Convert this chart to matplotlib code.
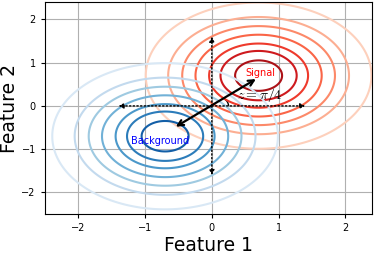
import matplotlib
matplotlib.use("Agg")
import matplotlib.pyplot as plt
import numpy as np
from matplotlib.patches import Arc

plt.rcParams['mathtext.fontset'] = 'cm'

# gaussian blobs
sig_center = (0.7, 0.7)
bkg_center = (-0.7, -0.7)
sigma = 1.0
levels = [0.24, 0.40, 0.52, 0.64, 0.76, 0.85, 0.94]

ticks = [-2, -1, 0, 1, 2]
lims = (-2.5, 2.4)

# arrows (data coords)
axis_arrow_x = 1.4
axis_arrow_y = 1.6
diag_start = (-0.54, -0.48)
diag_end = (0.66, 0.62)

xx, yy = np.meshgrid(np.linspace(-3, 3.5, 400), np.linspace(-3, 3.5, 400))


def blob(c):
    return np.exp(-((xx - c[0])**2 + (yy - c[1])**2) / (2 * sigma**2))


fig = plt.figure(figsize=(3.74, 2.54), dpi=100)
ax = fig.add_axes([0.120, 0.157, 0.875, 0.835])
ax.set_axisbelow(True)
ax.grid(True, color='#b0b0b0', lw=0.8)

reds = [plt.cm.Reds(v) for v in np.linspace(0.18, 0.85, len(levels))]
blues = [plt.cm.Blues(v) for v in np.linspace(0.15, 0.82, len(levels))]
ax.contour(xx, yy, blob(sig_center), levels=levels, colors=reds, linewidths=1.5)
ax.contour(xx, yy, blob(bkg_center), levels=levels, colors=blues, linewidths=1.5)

ax.text(0.72, 0.77, 'Signal', color='red', fontsize=7, ha='center', va='center')
ax.text(-0.77, -0.8, 'Background', color='blue', fontsize=7, ha='center', va='center')

dot = dict(arrowstyle='-|>,head_length=0.3,head_width=0.15', color='k', lw=1.0,
           linestyle=':', shrinkA=0, shrinkB=0)
for end in [(axis_arrow_x, 0), (-axis_arrow_x, 0), (0, axis_arrow_y), (0, -axis_arrow_y)]:
    ax.annotate('', xy=end, xytext=(0, 0), arrowprops=dot)

ax.annotate('', xy=diag_end, xytext=diag_start,
            arrowprops=dict(arrowstyle='<->', color='k', lw=1.6, shrinkA=0, shrinkB=0))
ax.add_patch(Arc((0, 0), 0.5, 0.5, theta1=0, theta2=45, color='k', lw=1.0))
ax.text(0.38, 0.05, r'$z = \pi/4$', fontsize=10, ha='left', va='bottom')

ax.set_xlim(lims)
ax.set_ylim(lims)
ax.set_xticks(ticks)
ax.set_yticks(ticks)
ax.tick_params(labelsize=7, length=3, width=0.8)
ax.set_xlabel('Feature 1', fontsize=13.5, labelpad=2)
ax.set_ylabel('Feature 2', fontsize=13.5, labelpad=2)

fig.savefig('out.png', dpi=100)
